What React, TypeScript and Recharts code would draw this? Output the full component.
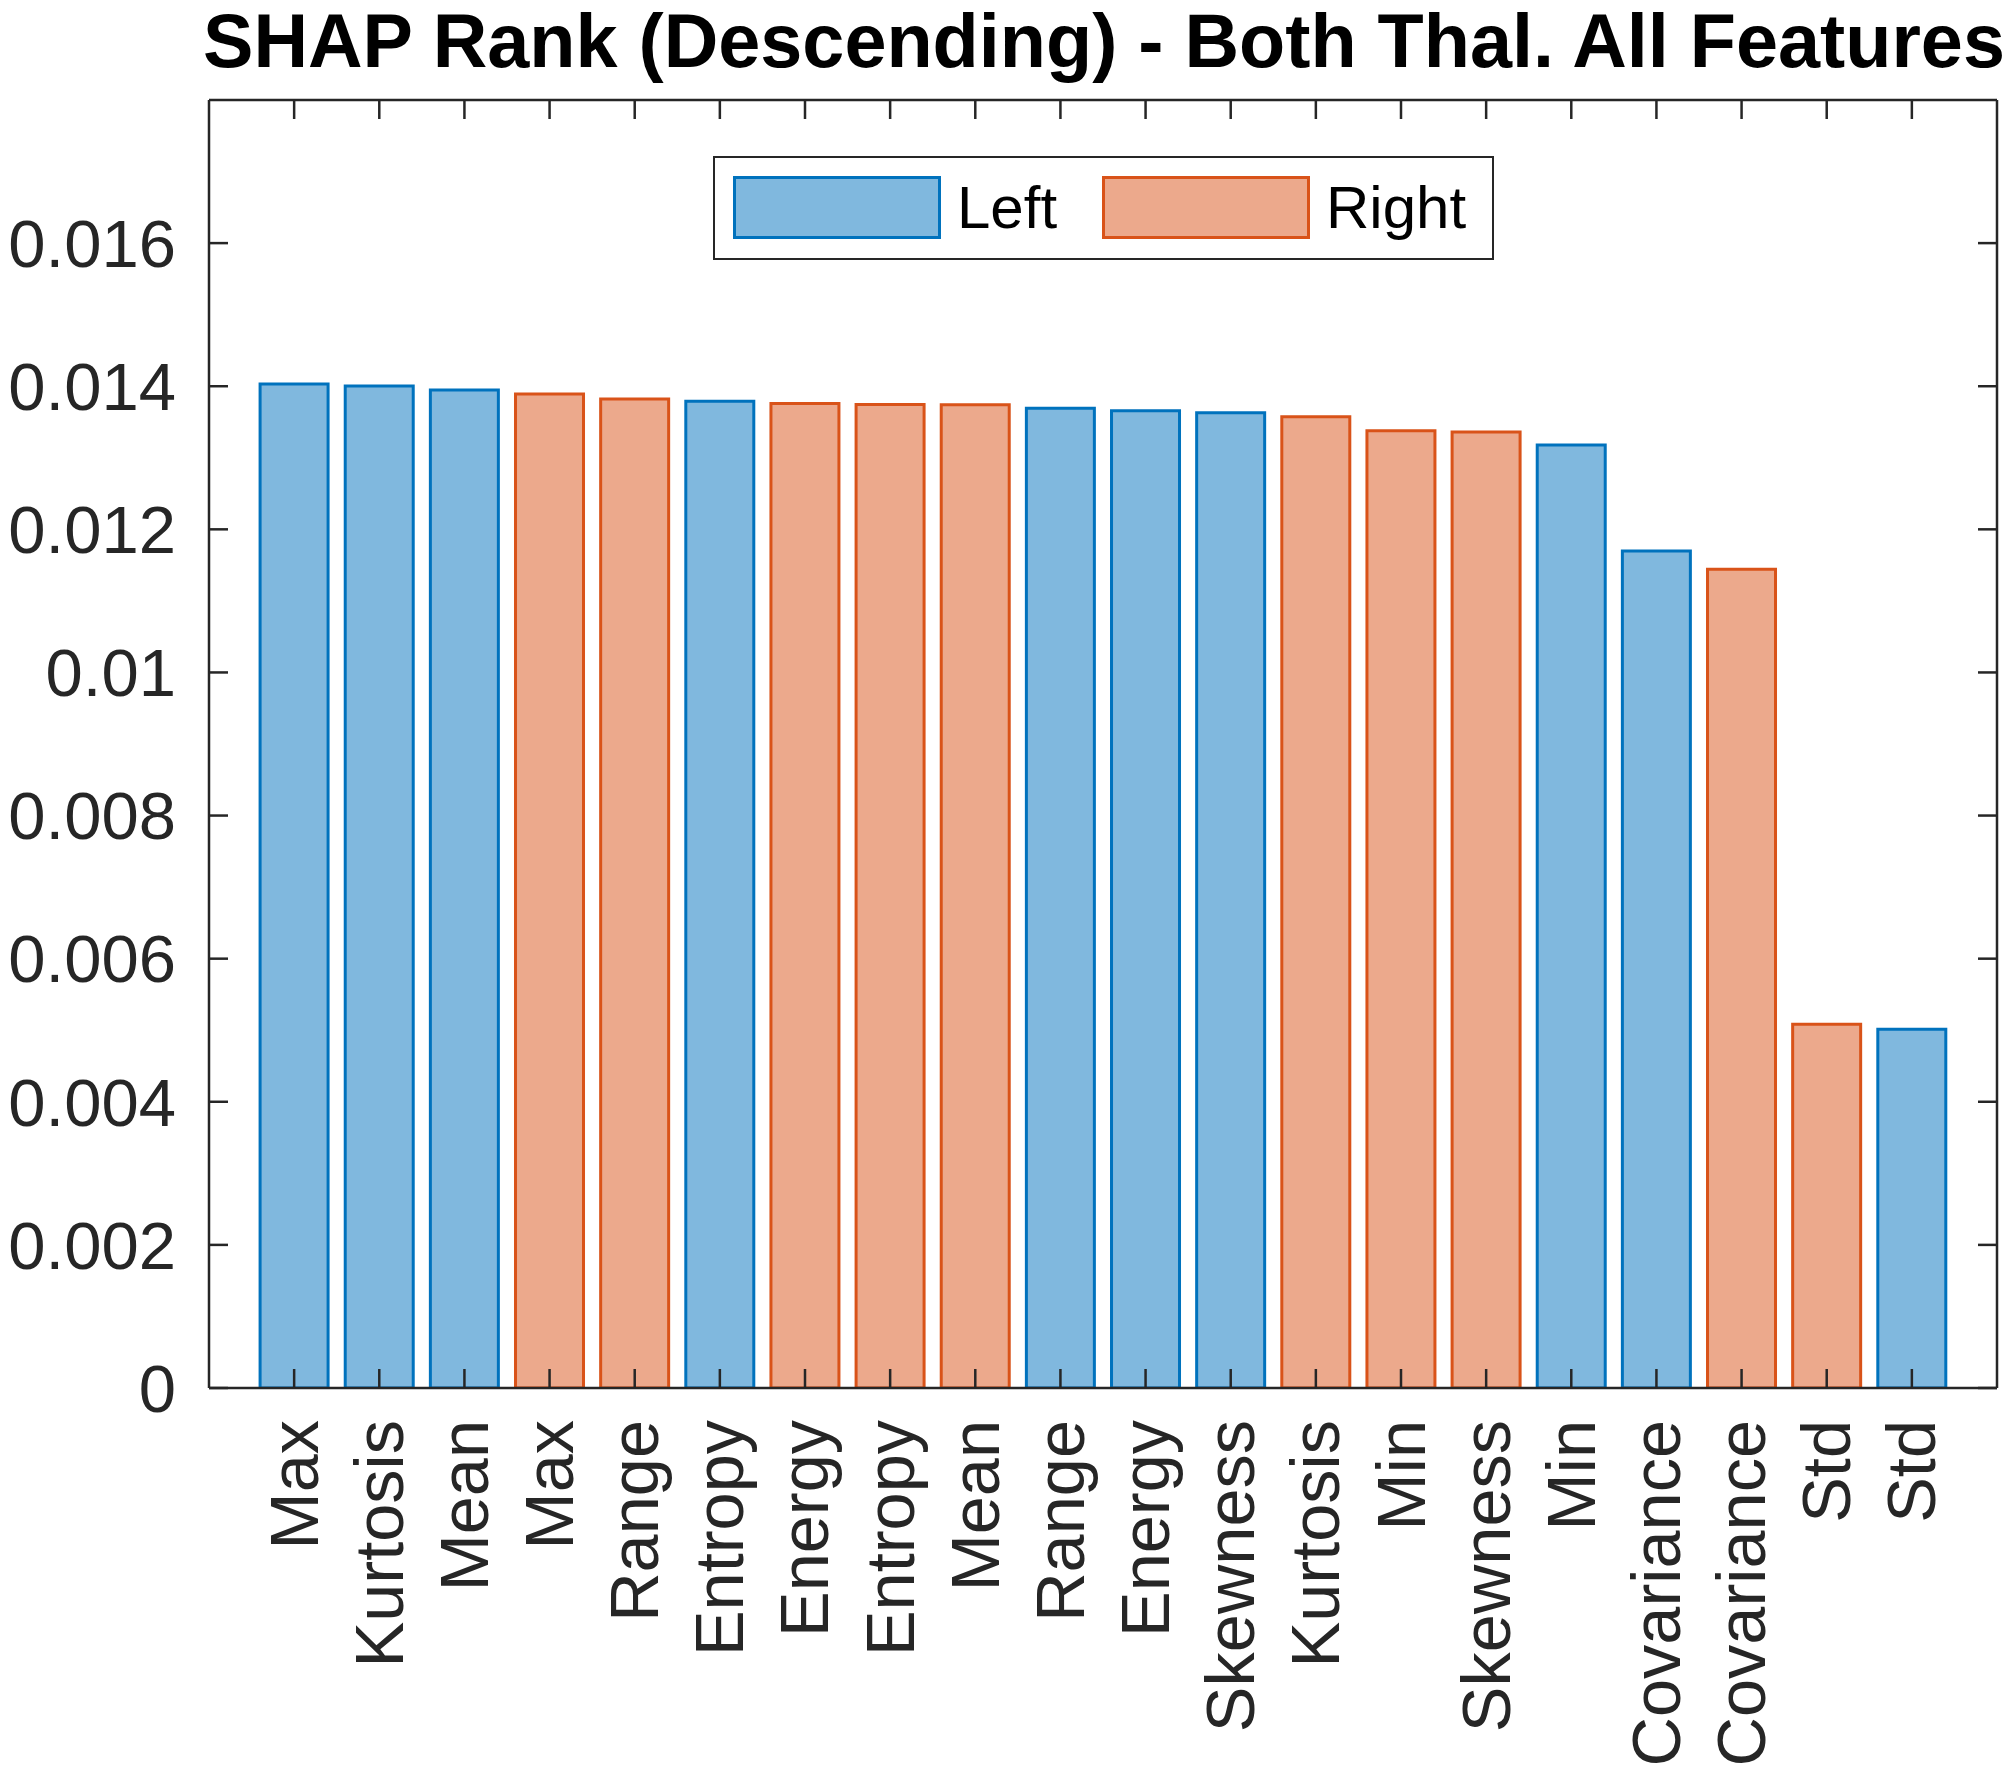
import React from 'react';
import { BarChart, Bar, XAxis, YAxis } from 'recharts';

// ---- data ----
const featureLabels = [
  'Max', 'Kurtosis', 'Mean', 'Max', 'Range', 'Entropy', 'Energy', 'Entropy', 'Mean', 'Range',
  'Energy', 'Skewness', 'Kurtosis', 'Min', 'Skewness', 'Min', 'Covariance', 'Covariance', 'Std', 'Std',
];
const featureSides = [
  'Left', 'Left', 'Left', 'Right', 'Right', 'Left', 'Right', 'Right', 'Right', 'Left',
  'Left', 'Left', 'Right', 'Right', 'Right', 'Left', 'Left', 'Right', 'Right', 'Left',
];
const shapValues = [
  0.014031, 0.014003, 0.013947, 0.013891, 0.013821, 0.013789, 0.01376, 0.013746, 0.013741, 0.013691,
  0.013658, 0.01363, 0.013574, 0.013378, 0.01336, 0.013178, 0.011697, 0.011441, 0.005083, 0.005013,
];
const seriesNames = ['Left', 'Right'];
const seriesFill = ['#80B8DE', '#ECA98C'];
const seriesEdge = ['#0072BD', '#D95319'];
const yTicks = [0, 0.002, 0.004, 0.006, 0.008, 0.01, 0.012, 0.014, 0.016];
const yDomain = [0, 0.018];
const titleText = 'SHAP Rank (Descending) - Both Thal. All Features';

const data = featureLabels.map((label, i) => {
  const row: any = { id: String(i), label };
  seriesNames.forEach((s) => {
    row[s] = featureSides[i] === s ? shapValues[i] : 0;
  });
  return row;
});

const FONT = '"Liberation Sans", Arial, Helvetica, sans-serif';
const AX = '#262626';
const W = 2010;
const H = 1773;

const fmtY = (v: number) => String(Number(v.toFixed(3)));
const blank = () => '';

const XTick = (props: any) => {
  const { x, y, payload } = props;
  const label = featureLabels[Number(payload.value)];
  return (
    <text
      x={x}
      y={y}
      transform={`rotate(-90, ${x}, ${y})`}
      textAnchor="end"
      dominantBaseline="central"
      fontSize={68.5}
      fontFamily={FONT}
      fill={AX}
    >
      {label}
    </text>
  );
};

const LegendBox = () => (
  <div
    style={{
      position: 'absolute',
      left: 713,
      top: 156,
      width: 781,
      height: 104,
      boxSizing: 'border-box',
      border: `2.5px solid ${AX}`,
      background: '#fff',
      fontFamily: FONT,
      fontSize: 60,
      color: '#000',
    }}
  >
    {seriesNames.map((s, i) => (
      <div
        key={s}
        style={{
          position: 'absolute',
          left: i === 0 ? 18 : 387,
          top: 18,
          height: 63,
          display: 'flex',
          alignItems: 'center',
        }}
      >
        <div
          style={{
            width: 208,
            height: 63,
            boxSizing: 'border-box',
            background: seriesFill[i],
            border: `3px solid ${seriesEdge[i]}`,
          }}
        />
        <span style={{ marginLeft: 16, lineHeight: '63px' }}>{s}</span>
      </div>
    ))}
  </div>
);

export default function App() {
  return (
    <div style={{ position: 'absolute', left: 0, top: 0, width: W, height: H, background: '#fff' }}>
      <div
        style={{
          position: 'absolute',
          left: 203,
          width: 1788,
          top: 3,
          textAlign: 'center',
          fontFamily: FONT,
          fontWeight: 'bold',
          fontSize: 75.6,
          lineHeight: '76px',
          color: '#000',
          whiteSpace: 'nowrap',
        }}
      >
        {titleText}
      </div>
      <div style={{ position: 'absolute', left: 0, top: 0 }}>
        <BarChart
          width={W}
          height={H}
          data={data}
          margin={{ top: 99, right: 12, bottom: 5, left: 0 }}
          barCategoryGap="10%"
        >
          <XAxis
            dataKey="id"
            type="category"
            height={380}
            padding={{ left: 42.57, right: 42.57 }}
            interval={0}
            tickSize={-19}
            tickMargin={51}
            tick={<XTick />}
            axisLine={{ stroke: AX, strokeWidth: 2.5 }}
            tickLine={{ stroke: AX, strokeWidth: 2.5 }}
          />
          <XAxis
            xAxisId="top"
            dataKey="id"
            type="category"
            orientation="top"
            height={1}
            padding={{ left: 42.57, right: 42.57 }}
            interval={0}
            tickSize={-19}
            tickFormatter={blank}
            axisLine={{ stroke: AX, strokeWidth: 2.5 }}
            tickLine={{ stroke: AX, strokeWidth: 2.5 }}
          />
          <YAxis
            type="number"
            domain={yDomain}
            ticks={yTicks}
            allowDataOverflow
            width={209}
            tickSize={-19}
            tickMargin={52}
            tickFormatter={fmtY}
            tick={{ fontSize: 67, fontFamily: FONT, fill: AX }}
            axisLine={{ stroke: AX, strokeWidth: 2.5 }}
            tickLine={{ stroke: AX, strokeWidth: 2.5 }}
          />
          <YAxis
            yAxisId="right"
            orientation="right"
            type="number"
            domain={yDomain}
            ticks={yTicks}
            allowDataOverflow
            width={1}
            tickSize={-19}
            tickFormatter={blank}
            axisLine={{ stroke: AX, strokeWidth: 2.5 }}
            tickLine={{ stroke: AX, strokeWidth: 2.5 }}
          />
          {seriesNames.map((s, i) => (
            <Bar
              key={s}
              dataKey={s}
              stackId="a"
              fill={seriesFill[i]}
              stroke={seriesEdge[i]}
              strokeWidth={3}
              isAnimationActive={false}
            />
          ))}
        </BarChart>
      </div>
      <LegendBox />
    </div>
  );
}
